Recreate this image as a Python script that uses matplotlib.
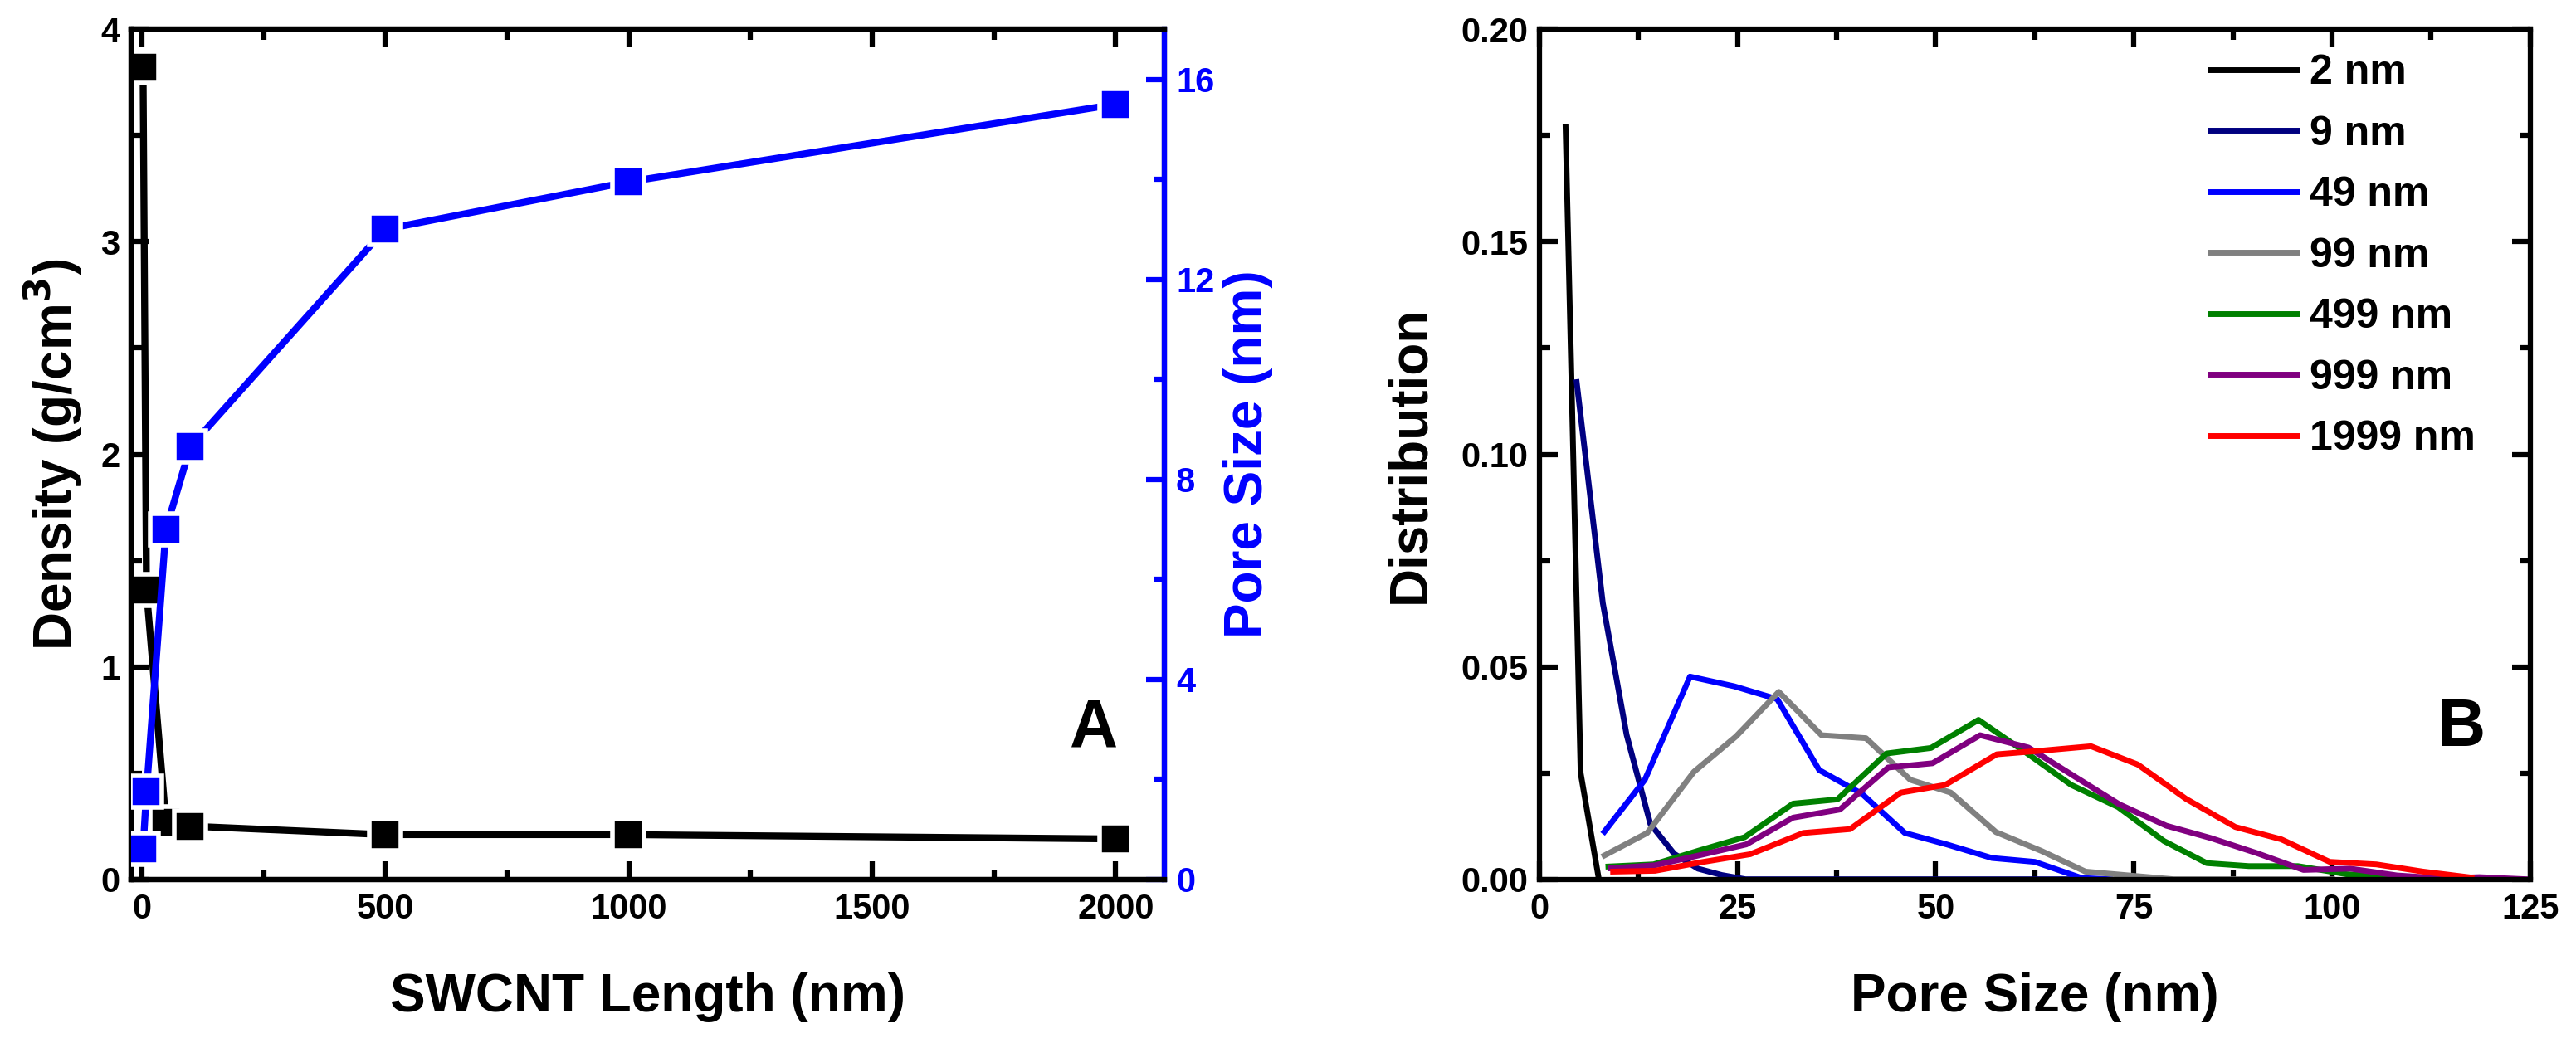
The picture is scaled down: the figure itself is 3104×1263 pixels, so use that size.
import matplotlib
matplotlib.use("Agg")
import matplotlib.pyplot as plt
from matplotlib.ticker import MultipleLocator

plt.rcParams['font.family'] = ['Liberation Sans', 'DejaVu Sans']
plt.rcParams['font.weight'] = 'bold'

# panel A data
swcnt_length = [2, 9, 49, 99, 499, 999, 1999]
density = [3.82, 1.36, 0.27, 0.25, 0.21, 0.21, 0.19]
pore_size = [0.61, 1.75, 7.0, 8.65, 13.0, 13.95, 15.5]

# panel B data (pore size distributions)
labels = ['2 nm', '9 nm', '49 nm', '99 nm', '499 nm', '999 nm', '1999 nm']
colors = ['black', '#000080', '#0000ff', '#808080', '#008000', '#800080', '#ff0000']

x_2 = [3.3, 5.2, 7.5]
y_2 = [0.177, 0.025, 0.0]
x_9 = [4.7, 8.0, 11.0, 14.0, 17.0, 20.0, 23.0, 26.0, 35.0, 50.0, 60.0, 71.0]
y_9 = [0.117, 0.065, 0.034, 0.013, 0.006, 0.0025, 0.001, 0.0, 0.0, 0.0, 0.0, 0.0]
x_49 = [8.2, 13.3, 19.0, 24.6, 30.0, 35.3, 40.7, 46.1, 51.4, 57.1, 62.5, 68.4, 72.0]
y_49 = [0.0112, 0.0234, 0.0477, 0.0454, 0.0424, 0.0257, 0.0201, 0.0109, 0.0082,
        0.0050, 0.0041, 0.0003, 0.0]
x_99 = [8.2, 13.6, 19.5, 24.8, 30.2, 35.6, 41.2, 46.8, 51.9, 57.6, 63.3, 68.9, 75.0,
        80.0, 90.0, 100.0]
y_99 = [0.0056, 0.0109, 0.0253, 0.0336, 0.0441, 0.0339, 0.0332, 0.0234, 0.0204,
        0.0111, 0.0067, 0.0018, 0.0008, 0.0, 0.0, 0.0]
x_499 = [8.7, 14.4, 20.2, 25.9, 32.0, 37.6, 43.8, 49.4, 55.4, 61.7, 67.1, 73.0, 78.8,
         84.2, 89.5, 95.7, 101.8, 107.7, 113.0]
y_499 = [0.0030, 0.0035, 0.0068, 0.0099, 0.0178, 0.0188, 0.0296, 0.0309, 0.0375,
         0.0294, 0.0222, 0.0170, 0.0090, 0.0038, 0.0031, 0.0031, 0.0012, 0.0004, 0.0]
x_999 = [9.0, 14.6, 20.3, 26.1, 32.0, 37.9, 44.0, 49.6, 55.6, 61.7, 67.6, 73.2, 79.1,
         84.7, 90.6, 96.4, 102.3, 108.2, 114.0, 118.6, 124.5]
y_999 = [0.0026, 0.0033, 0.0057, 0.0082, 0.0145, 0.0164, 0.0263, 0.0273, 0.0339,
         0.0310, 0.0241, 0.0176, 0.0126, 0.0097, 0.0061, 0.0022, 0.0025, 0.0009,
         0.0002, 0.0005, 0.0]
x_1999 = [9.3, 14.6, 20.4, 26.6, 33.3, 39.2, 45.6, 51.2, 57.7, 63.6, 69.6, 75.5, 81.6,
          87.8, 93.6, 99.7, 105.6, 111.5, 117.6]
y_1999 = [0.0018, 0.0020, 0.0040, 0.0059, 0.0109, 0.0118, 0.0204, 0.0222, 0.0294,
          0.0303, 0.0313, 0.0270, 0.0189, 0.0123, 0.0094, 0.0041, 0.0035, 0.0018, 0.0004]

dist_x = [x_2, x_9, x_49, x_99, x_499, x_999, x_1999]
dist_y = [y_2, y_9, y_49, y_99, y_499, y_999, y_1999]

TICK_FS = 30
LABEL_FS = 46
SPINE_W = 4.5
LINE_W = 5.0


def style_ticks(ax, color='black'):
    ax.tick_params(which='both', direction='in', width=SPINE_W, labelsize=TICK_FS,
                   top=True, colors=color, pad=12)
    ax.tick_params(which='major', length=16)
    ax.tick_params(which='minor', length=9)
    for lab in ax.get_xticklabels() + ax.get_yticklabels():
        lab.set_fontweight('bold')


fig = plt.figure(figsize=(31.04, 12.63), dpi=100)

# ---- panel A ----
ax1 = fig.add_axes([0.051, 0.161, 0.401, 0.811])
ax1.plot(swcnt_length, density, color='black', lw=6, marker='s', ms=27,
         mec='white', mew=4, zorder=3)
ax1.set_xlim(-22, 2100)
ax1.set_ylim(0, 4)
ax1.xaxis.set_major_locator(MultipleLocator(500))
ax1.xaxis.set_minor_locator(MultipleLocator(250))
ax1.yaxis.set_major_locator(MultipleLocator(1))
ax1.yaxis.set_minor_locator(MultipleLocator(0.5))
style_ticks(ax1)
ax1.tick_params(axis='y', right=False, pad=10)
ax1.set_xlabel('SWCNT Length (nm)', fontsize=LABEL_FS, fontweight='bold', labelpad=40)
ax1.set_ylabel('Density (g/cm$^\\mathbf{3}$)', fontsize=LABEL_FS, fontweight='bold',
               labelpad=14)
for s in ax1.spines.values():
    s.set_linewidth(SPINE_W)

ax2 = ax1.twinx()
ax2.plot(swcnt_length, pore_size, color='#0000ff', lw=6, marker='s', ms=27,
         mec='white', mew=4, zorder=3)
ax2.set_ylim(0, 17)
ax2.yaxis.set_major_locator(MultipleLocator(4))
ax2.yaxis.set_minor_locator(MultipleLocator(2))
ax2.tick_params(which='both', direction='in', width=SPINE_W, labelsize=TICK_FS,
                colors='#0000ff', pad=10)
ax2.tick_params(which='major', length=16)
ax2.tick_params(which='minor', length=9)
for lab in ax2.get_yticklabels():
    lab.set_fontweight('bold')
ax2.set_ylabel('Pore Size (nm)', fontsize=LABEL_FS, fontweight='bold',
               color='#0000ff', labelpad=8)
for s in ax2.spines.values():
    s.set_linewidth(SPINE_W)
ax2.spines['right'].set_color('#0000ff')
ax1.text(0.955, 0.14, 'A', transform=ax1.transAxes, fontsize=58, fontweight='bold',
         ha='right', va='bottom')

# ---- panel B ----
ax3 = fig.add_axes([0.5976, 0.161, 0.3846, 0.811])
for xs, ys, c, lab in zip(dist_x, dist_y, colors, labels):
    ax3.plot(xs, ys, color=c, lw=LINE_W, label=lab)
ax3.set_xlim(0, 125)
ax3.set_ylim(0, 0.20)
ax3.xaxis.set_major_locator(MultipleLocator(25))
ax3.xaxis.set_minor_locator(MultipleLocator(12.5))
ax3.yaxis.set_major_locator(MultipleLocator(0.05))
ax3.yaxis.set_minor_locator(MultipleLocator(0.025))
ax3.yaxis.set_major_formatter(plt.FormatStrFormatter('%.2f'))
style_ticks(ax3)
ax3.tick_params(which='both', right=True)
ax3.tick_params(axis='y', pad=10)
ax3.set_xlabel('Pore Size (nm)', fontsize=LABEL_FS, fontweight='bold', labelpad=40)
ax3.set_ylabel('Distribution', fontsize=LABEL_FS, fontweight='bold', labelpad=22)
for s in ax3.spines.values():
    s.set_linewidth(SPINE_W)
leg = ax3.legend(loc='upper right', frameon=False, prop={'size': 36, 'weight': 'bold'},
                 handlelength=2.1, handletextpad=0.3, labelspacing=0.55,
                 borderaxespad=0.2, bbox_to_anchor=(0.97, 1.0))
for line in leg.get_lines():
    line.set_linewidth(LINE_W)
ax3.text(0.955, 0.14, 'B', transform=ax3.transAxes, fontsize=58, fontweight='bold',
         ha='right', va='bottom')

fig.savefig('out.png', dpi=100)
